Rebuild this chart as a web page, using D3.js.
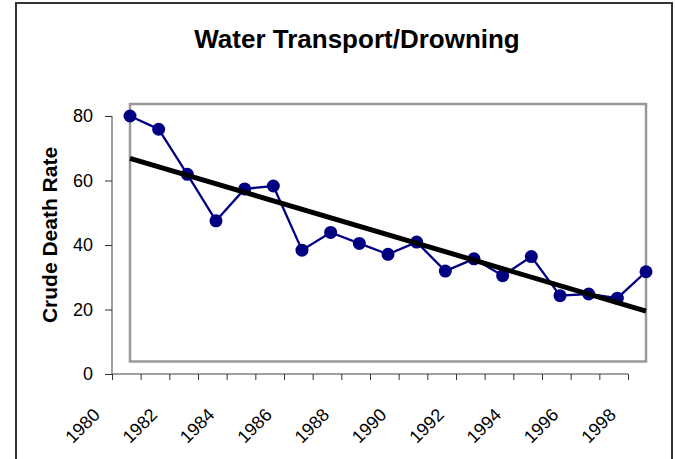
<!DOCTYPE html>
<html>
<head>
<meta charset="utf-8">
<script src="https://cdn.jsdelivr.net/npm/d3@7"></script>
<style>
  html, body { margin: 0; padding: 0; background: #fff; }
  svg { display: block; font-family: Arial, "Liberation Sans", sans-serif; }
</style>
</head>
<body>
<div id="chart"></div>
<script>
// Water Transport/Drowning: crude death rate by year with linear trend
const years = d3.range(1980, 1999);
const rates = [80.0, 75.9, 61.9, 47.5, 57.4, 58.3, 38.4, 43.9, 40.5, 37.1, 40.9, 31.9, 35.7, 30.5, 36.4, 24.3, 24.8, 23.5, 31.7];
const yTicks = [0, 20, 40, 60, 80];
const xTickLabels = [1980, 1982, 1984, 1986, 1988, 1990, 1992, 1994, 1996, 1998];

(function(){
  const w = 675, h = 459;
  const svg = d3.select('#chart').append('svg').attr('width', w).attr('height', h);

  // outer chart border (bottom runs off the picture)
  svg.append('rect').attr('x', 16).attr('y', 3).attr('width', 656).attr('height', 480)
    .attr('fill', '#fff').attr('stroke', '#333').attr('stroke-width', 2);

  svg.append('text').attr('x', 357).attr('y', 48).attr('text-anchor', 'middle')
    .attr('font-size', 26).attr('font-weight', 'bold').text('Water Transport/Drowning');

  // axes scale and the (offset) scale used by the points
  const x = d3.scaleLinear().domain([1980, 1998]).range([112, 628]);
  const xp = d3.scaleLinear().domain([1980, 1998]).range([130, 646]);
  const y = d3.scaleLinear().domain([0, 80]).range([374, 116]);

  // plot area box
  svg.append('rect').attr('x', xp(1980)).attr('y', 104)
    .attr('width', xp(1998) - xp(1980)).attr('height', 361.5 - 104)
    .attr('fill', 'none').attr('stroke', '#999').attr('stroke-width', 2.5);

  // y axis
  const ya = svg.append('g').attr('transform', `translate(${x(1980)},0)`)
    .call(d3.axisLeft(y).tickValues(yTicks).tickSize(7).tickPadding(12));
  ya.select('.domain').attr('stroke', '#808080').attr('stroke-width', 1.5).attr('d', `M0,${y(80)}V${y(0)}`);
  ya.selectAll('.tick line').attr('stroke', '#333');
  ya.selectAll('text').attr('font-size', 18).attr('font-family', 'Arial, "Liberation Sans", sans-serif').attr('fill', '#000');

  // x axis
  const xa = svg.append('g').attr('transform', `translate(0,${y(0)})`)
    .call(d3.axisBottom(x).tickValues(years).tickSize(6).tickFormat(''));
  xa.select('.domain').attr('stroke', '#808080').attr('stroke-width', 1.5).attr('d', `M${x(1980)},0H${x(1998)}`);
  xa.selectAll('.tick line').attr('stroke', '#333');

  svg.append('g').selectAll('text').data(xTickLabels).enter().append('text')
    .attr('transform', d => `translate(${x(d) - 11},${y(0) + 42}) rotate(-45)`)
    .attr('text-anchor', 'end').attr('font-size', 18).text(d => d);

  svg.append('text').attr('transform', `translate(57,235) rotate(-90)`)
    .attr('text-anchor', 'middle').attr('font-size', 21).attr('font-weight', 'bold')
    .text('Crude Death Rate');

  // data series
  const pts = years.map((yr, i) => ({yr, v: rates[i]}));
  svg.append('path').datum(pts)
    .attr('d', d3.line().x(d => xp(d.yr)).y(d => y(d.v)))
    .attr('fill', 'none').attr('stroke', '#000080').attr('stroke-width', 2.3);
  svg.append('g').selectAll('circle').data(pts).enter().append('circle')
    .attr('cx', d => xp(d.yr)).attr('cy', d => y(d.v)).attr('r', 6.5)
    .attr('fill', '#000080');

  // least squares trend line
  const mx = d3.mean(years), my = d3.mean(rates);
  const slope = d3.sum(years, (yr, i) => (yr - mx) * (rates[i] - my)) / d3.sum(years, yr => (yr - mx) ** 2);
  const fit = yr => my + slope * (yr - mx);
  svg.append('line')
    .attr('x1', xp(1980)).attr('y1', y(fit(1980)))
    .attr('x2', xp(1998)).attr('y2', y(fit(1998)))
    .attr('stroke', '#000').attr('stroke-width', 5);
})();
</script>
</body>
</html>
